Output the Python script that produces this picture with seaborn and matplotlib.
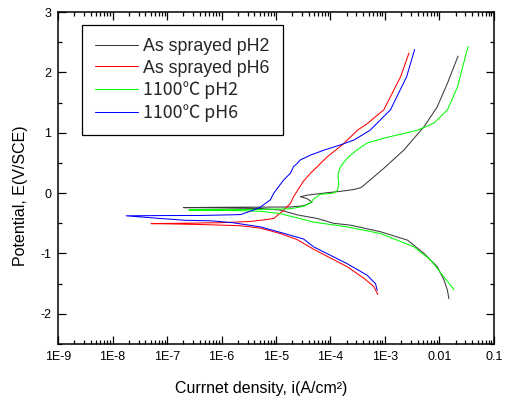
import numpy as np
import pandas as pd
import matplotlib
matplotlib.use("Agg")
import matplotlib.pyplot as plt
from matplotlib.ticker import LogLocator, NullFormatter, MultipleLocator
import seaborn as sns

# Potentiodynamic polarization curves, each traced from the cathodic end,
# through the corrosion potential, to the anodic end.
series_names = ["As sprayed pH2", "As sprayed pH6", "1100℃ pH2", "1100℃ pH6"]
series_colors = ["#3a3a3a", "#ff0000", "#00ff00", "#0000ff"]

sprayed_ph2_i = [1.49e-2, 1.40e-2, 1.21e-2, 9.1e-3, 5.2e-3, 2.6e-3, 8.3e-4, 2.3e-4,
                 1.14e-4, 5.7e-5, 2.44e-5, 1.2e-5, 5.2e-6, 9.5e-7, 2.0e-7,
                 9.5e-7, 5.2e-6, 1.84e-5, 3.2e-5, 4.6e-5, 3.7e-5, 2.8e-5, 3.7e-5,
                 7.5e-5, 1.53e-4, 2.7e-4, 3.6e-4, 4.1e-4, 9.5e-4, 2.2e-3, 5.2e-3,
                 9.1e-3, 1.40e-2, 2.19e-2]
sprayed_ph2_e = [-1.75, -1.61, -1.44, -1.22, -1.00, -0.78, -0.64, -0.53,
                 -0.50, -0.42, -0.36, -0.28, -0.255, -0.245, -0.24,
                 -0.235, -0.232, -0.23, -0.21, -0.15, -0.09, -0.06, -0.035,
                 0.0, 0.03, 0.06, 0.09, 0.13, 0.41, 0.71, 1.10,
                 1.43, 1.82, 2.27]

sprayed_ph6_i = [7.4e-4, 6.25e-4, 4.1e-4, 2.03e-4, 4.9e-5, 2.44e-5, 1.2e-5, 5.2e-6,
                 2.2e-6, 4.1e-7, 1.15e-7, 5.1e-8,
                 1.75e-7, 9.5e-7, 3.4e-6, 6.4e-6, 9.1e-6, 1.39e-5, 1.84e-5, 2.1e-5,
                 3.2e-5, 4.3e-5, 8.7e-5, 1.75e-4, 3.1e-4, 4.7e-4, 9.5e-4, 1.94e-3,
                 2.75e-3]
sprayed_ph6_e = [-1.68, -1.55, -1.41, -1.22, -0.93, -0.77, -0.67, -0.58,
                 -0.54, -0.52, -0.51, -0.505,
                 -0.50, -0.49, -0.47, -0.44, -0.42, -0.28, -0.17, -0.06,
                 0.20, 0.33, 0.60, 0.82, 1.04, 1.15, 1.38, 1.93,
                 2.32]

heat_ph2_i = [1.85e-2, 1.21e-2, 6.9e-3, 3.4e-3, 8.3e-4, 2.03e-4, 4.9e-5, 1.2e-5,
              5.2e-6, 9.5e-7, 2.5e-7,
              9.5e-7, 5.2e-6, 1.84e-5, 3.2e-5, 4.3e-5, 4.9e-5, 6.5e-5, 1.15e-4,
              1.35e-4, 1.42e-4, 1.38e-4, 1.39e-4, 1.53e-4, 2.03e-4, 3.0e-4, 4.7e-4,
              9.5e-4, 3.9e-3, 7.9e-3, 1.40e-2, 2.14e-2, 3.34e-2]
heat_ph2_e = [-1.60, -1.39, -1.11, -0.89, -0.67, -0.56, -0.48, -0.34,
              -0.30, -0.285, -0.28,
              -0.275, -0.27, -0.26, -0.22, -0.16, -0.10, -0.02, 0.0,
              0.05, 0.15, 0.25, 0.33, 0.44, 0.58, 0.71, 0.83,
              0.91, 1.04, 1.16, 1.38, 1.76, 2.43]

heat_ph6_i = [7.2e-4, 6.7e-4, 4.7e-4, 2.03e-4, 4.9e-5, 3.2e-5, 1.2e-5, 5.2e-6,
              1.6e-6, 6.8e-7, 2.16e-7, 7.5e-8, 1.78e-8,
              7.5e-8, 4.1e-7, 1.45e-6, 2.25e-6, 3.9e-6, 5.2e-6, 7.9e-6, 9.1e-6,
              1.39e-5, 1.84e-5, 2.1e-5, 2.44e-5, 2.8e-5, 4.3e-5, 7.5e-5, 1.53e-4,
              2.7e-4, 5.3e-4, 1.26e-3, 2.5e-3, 3.5e-3]
heat_ph6_e = [-1.61, -1.50, -1.36, -1.17, -0.89, -0.76, -0.65, -0.56,
              -0.49, -0.46, -0.45, -0.42, -0.376,
              -0.372, -0.37, -0.36, -0.355, -0.28, -0.23, -0.11, 0.0,
              0.22, 0.33, 0.44, 0.49, 0.55, 0.63, 0.71, 0.80,
              0.88, 1.04, 1.38, 1.93, 2.38]

x_tick_values = [1e-9, 1e-8, 1e-7, 1e-6, 1e-5, 1e-4, 1e-3, 1e-2, 1e-1]
x_tick_labels = ["1E-9", "1E-8", "1E-7", "1E-6", "1E-5", "1E-4", "1E-3", "0.01", "0.1"]
y_tick_values = [-2, -1, 0, 1, 2, 3]
y_tick_labels = ["-2", "-1", "0", "1", "2", "3"]

curves = [(sprayed_ph2_i, sprayed_ph2_e), (sprayed_ph6_i, sprayed_ph6_e),
          (heat_ph2_i, heat_ph2_e), (heat_ph6_i, heat_ph6_e)]
frames = []
for name, (i_vals, e_vals) in zip(series_names, curves):
    frames.append(pd.DataFrame({"series": name, "i": i_vals, "E": e_vals}))
df = pd.concat(frames, ignore_index=True)

sns.set_theme(style="ticks")
plt.rcParams["font.family"] = ["Liberation Sans", "Noto Sans CJK SC", "DejaVu Sans"]
plt.rcParams["axes.unicode_minus"] = False

fig = plt.figure(figsize=(5.08, 4.01), dpi=100)
ax = fig.add_axes([0.1142, 0.1421, 0.8582, 0.8279])
ax.set_xscale("log")

sns.lineplot(data=df, x="i", y="E", hue="series", hue_order=series_names,
             palette=series_colors, sort=False, estimator=None,
             linewidth=0.75, ax=ax)

ax.set_xlim(1e-9, 0.1)
ax.set_ylim(-2.5, 3)
ax.set_xticks(x_tick_values, x_tick_labels)
ax.xaxis.set_minor_locator(LogLocator(base=10, subs=np.arange(2, 10), numticks=20))
ax.xaxis.set_minor_formatter(NullFormatter())
ax.set_yticks(y_tick_values, y_tick_labels)
ax.yaxis.set_minor_locator(MultipleLocator(0.5))

ax.tick_params(which="both", direction="in", top=True, right=True,
               color="black", width=0.9, labelsize=9, labelcolor="black", pad=5)
ax.tick_params(which="major", length=5.5)
ax.tick_params(which="minor", length=3)
for spine in ax.spines.values():
    spine.set_color("black")
    spine.set_linewidth(1.1)

ax.set_xlabel("Currnet density, i(A/cm²)", fontsize=11.5, color="black")
ax.set_ylabel("Potential, E(V/SCE)", fontsize=11.5, color="black")
ax.xaxis.set_label_coords(0.466, -0.112)
ax.yaxis.set_label_coords(-0.068, 0.447)

# The degree-Celsius sign is taken from the CJK face, which gives it full width.
cjk_labels = {"1100℃ pH2", "1100℃ pH6"}
handles, labels = ax.get_legend_handles_labels()
leg = ax.legend(handles, labels, loc="upper left", bbox_to_anchor=(0.055, 0.962),
                fontsize=12.8, frameon=True, fancybox=False, framealpha=1,
                edgecolor="black", handlelength=2.4, handletextpad=0.3,
                borderpad=0.75, labelspacing=0.26, borderaxespad=0)
leg.get_frame().set_linewidth(0.9)
for line in leg.get_lines():
    line.set_linewidth(0.75)
for text in leg.get_texts():
    if text.get_text() in cjk_labels:
        text.set_fontfamily(["Noto Sans CJK SC", "Liberation Sans"])

fig.savefig("out.png", dpi=100)
